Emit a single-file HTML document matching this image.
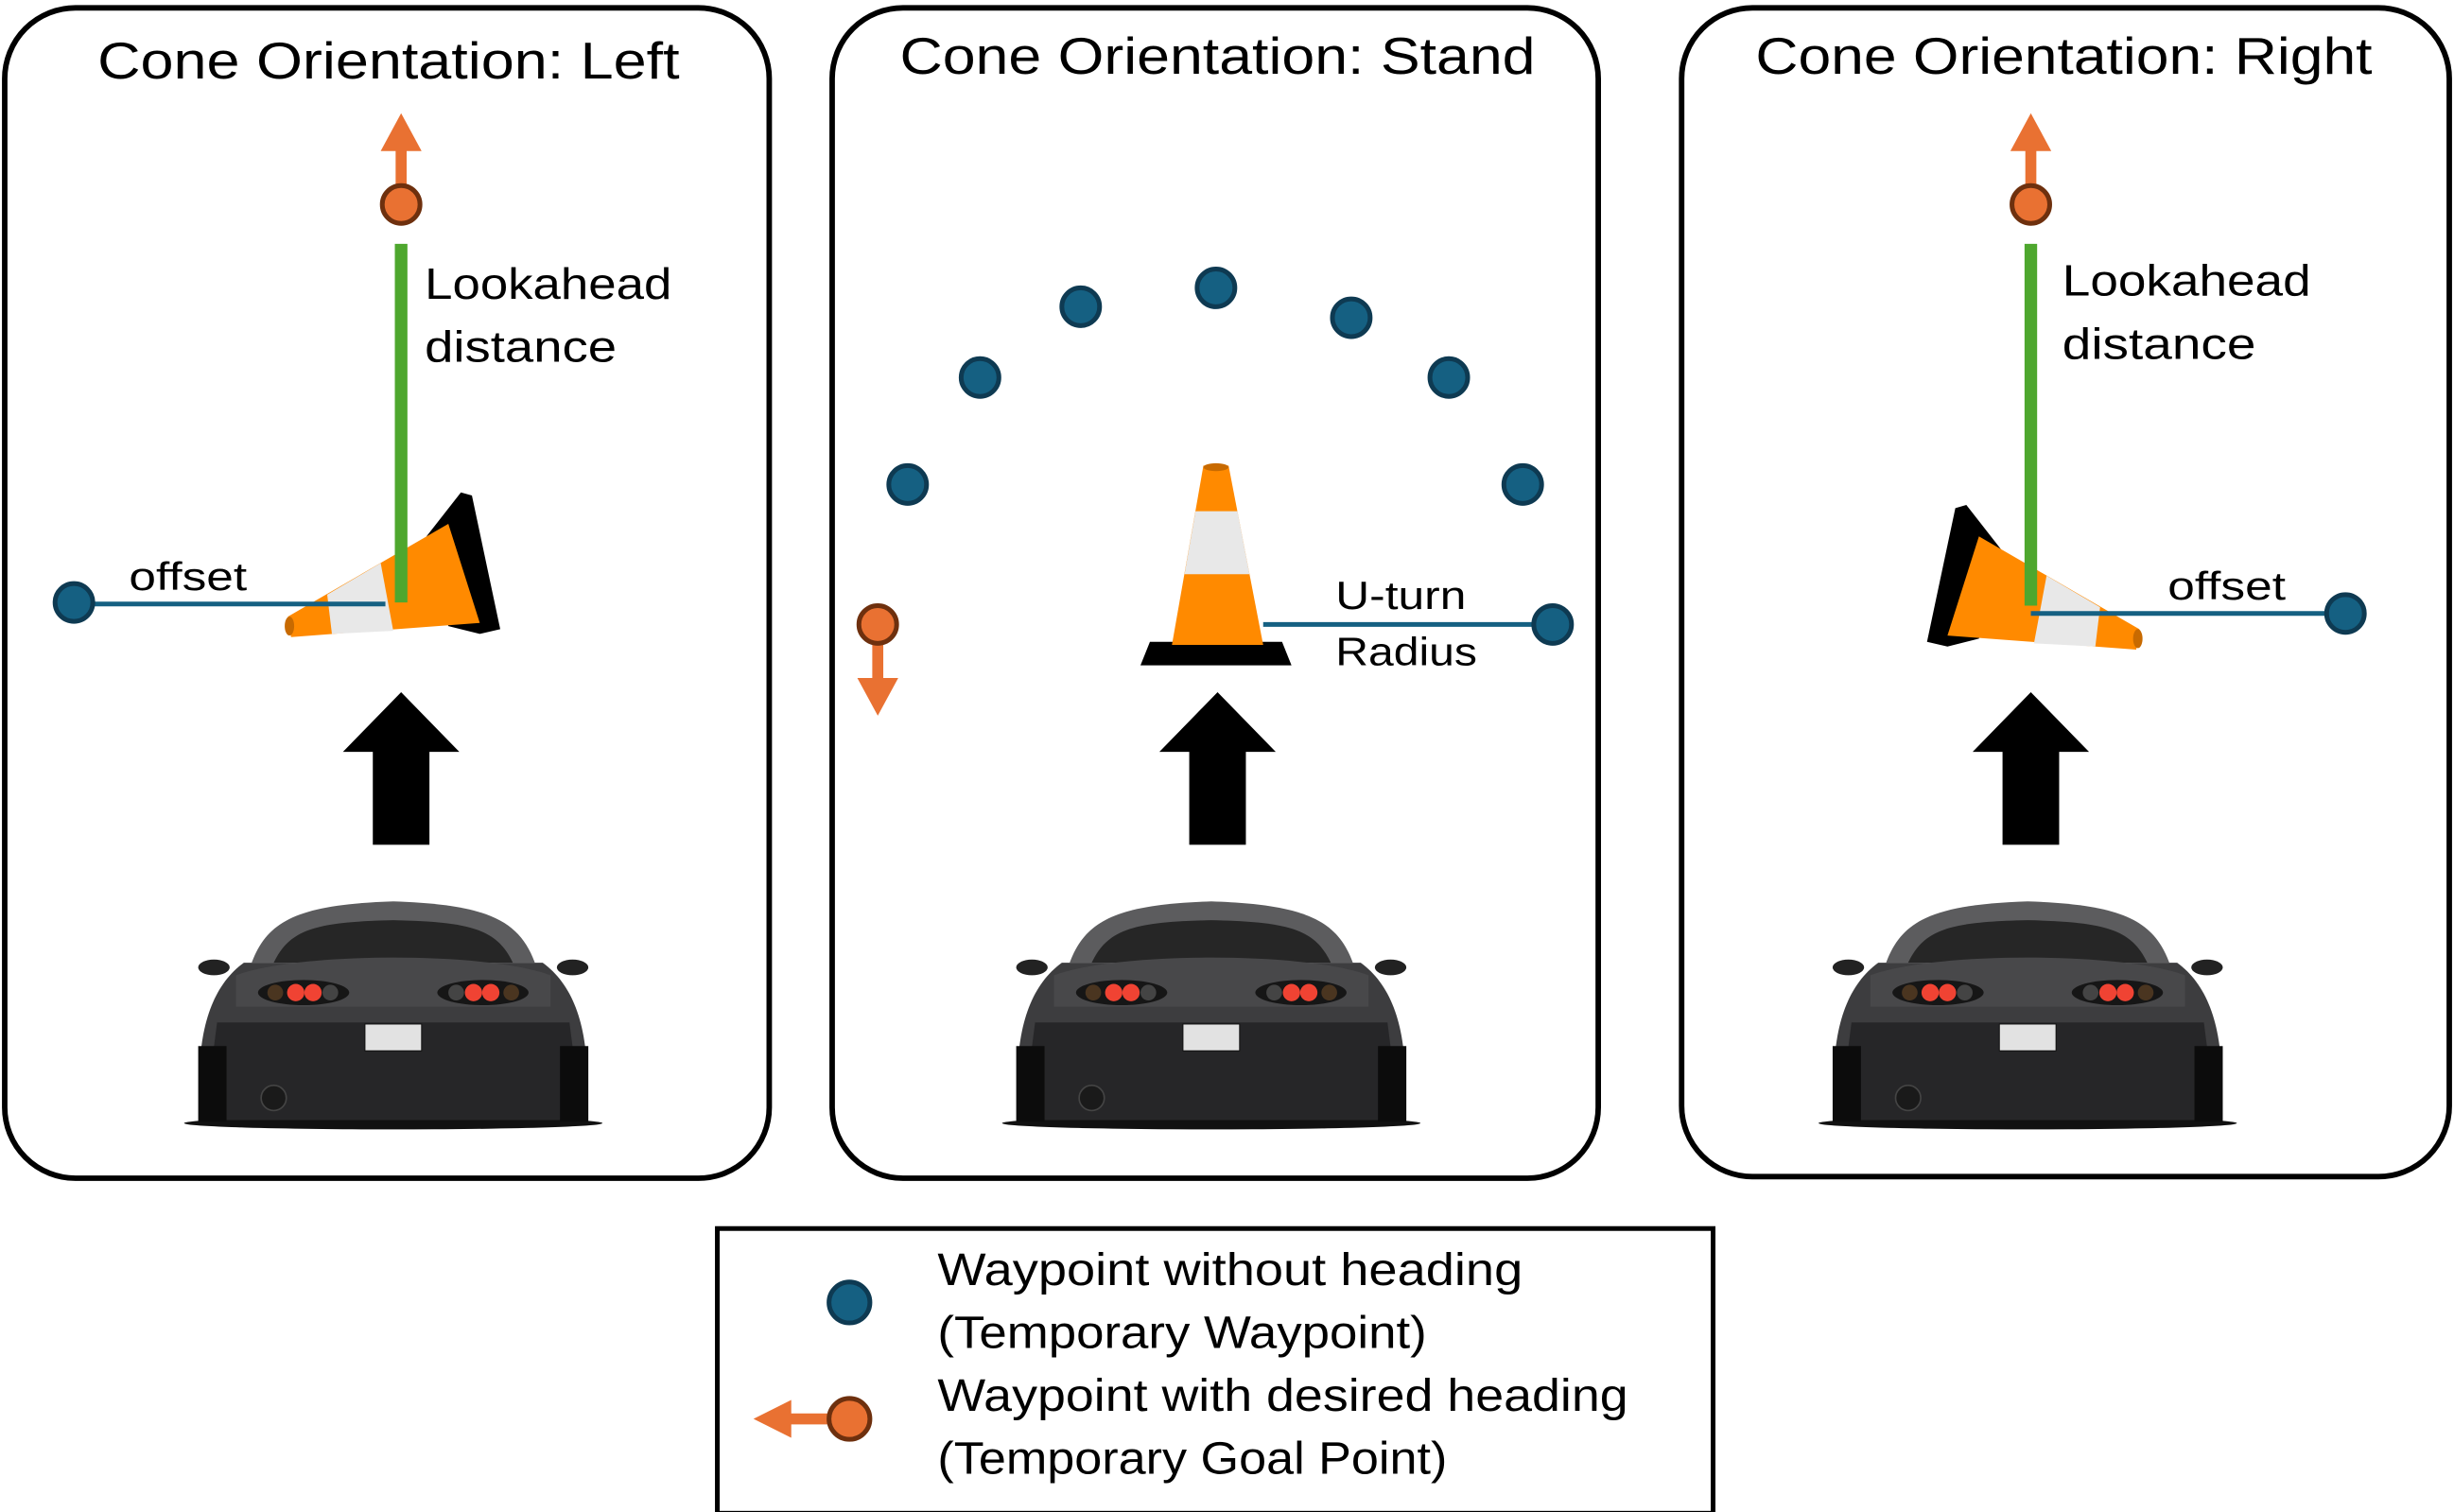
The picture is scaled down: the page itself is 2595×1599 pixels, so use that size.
<!DOCTYPE html>
<html><head><meta charset="utf-8"><style>
html,body{margin:0;padding:0;background:#fff;}
svg{display:block;}
text{font-family:"Liberation Sans","DejaVu Sans",sans-serif;fill:#000;}
</style></head><body>
<svg width="2595" height="1599" viewBox="0 0 1560 961.2" preserveAspectRatio="none" xmlns="http://www.w3.org/2000/svg">
<defs>
<g id="car">
  <ellipse cx="0" cy="714" rx="133" ry="4" fill="#111"/>
  <path d="M-90 612 C-80 585,-60 575,0 573 C60 575,80 585,90 612 Z" fill="#5c5c5e"/>
  <path d="M-76 612 C-66 591,-50 586,0 585 C50 586,66 591,76 612 Z" fill="#262626"/>
  <path d="M-122 712 C-127 660,-117 628,-95 612 L95 612 C117 628,127 660,122 712 Z" fill="#3d3d3f"/>
  <path d="M-112 650 L112 650 L120 712 L-120 712 Z" fill="#262628"/>
  <path d="M-100 620 C-60 605,60 605,100 620 L100 640 L-100 640 Z" fill="#48484a"/>
  <rect x="-124" y="665" width="18" height="48" fill="#0c0c0c"/>
  <rect x="106" y="665" width="18" height="48" fill="#0c0c0c"/>
  <ellipse cx="-114" cy="615" rx="10" ry="5" fill="#222"/>
  <ellipse cx="114" cy="615" rx="10" ry="5" fill="#222"/>
  <ellipse cx="-57" cy="631" rx="29" ry="8" fill="#161616"/>
  <ellipse cx="57" cy="631" rx="29" ry="8" fill="#161616"/>
  <circle cx="-75" cy="631" r="5" fill="#4a3520"/>
  <circle cx="-62" cy="631" r="5.5" fill="#f04333"/>
  <circle cx="-51" cy="631" r="5.5" fill="#f04333"/>
  <circle cx="-40" cy="631" r="5" fill="#444"/>
  <circle cx="40" cy="631" r="5" fill="#444"/>
  <circle cx="51" cy="631" r="5.5" fill="#f04333"/>
  <circle cx="62" cy="631" r="5.5" fill="#f04333"/>
  <circle cx="75" cy="631" r="5" fill="#4a3520"/>
  <rect x="-18" y="651" width="36" height="17" fill="#e2e2e2" stroke="#111" stroke-width="0.6"/>
  <circle cx="-76" cy="698" r="8" fill="#1a1a1a" stroke="#444" stroke-width="1"/>
</g>
<g id="bigarrow">
  <polygon points="-37,478 0,440 37,478 18,478 18,537 -18,537 -18,478" fill="#000"/>
</g>
<g id="lycone">
  <polygon points="268,345 293,313 300,315 318,400 305,403 285,398" fill="#000"/>
  <polygon points="183,392 285,333 305,396 185,405" fill="#ff8a00"/>
  <polygon points="208,378 242,358 250,401 211,403" fill="#e8e8e8"/>
  <ellipse cx="184" cy="398" rx="3" ry="6" fill="#c86a00"/>
</g>
</defs>

<rect x="3" y="5" width="486" height="744" rx="45" fill="none" stroke="#000" stroke-width="3.5"/>
<rect x="529" y="5" width="487" height="744" rx="45" fill="none" stroke="#000" stroke-width="3.5"/>
<rect x="1069" y="5" width="488" height="743" rx="45" fill="none" stroke="#000" stroke-width="3.5"/>

<text x="62" y="50" font-size="33" textLength="370" lengthAdjust="spacingAndGlyphs">Cone Orientation: Left</text>
<text x="572" y="47" font-size="33" textLength="404" lengthAdjust="spacingAndGlyphs">Cone Orientation: Stand</text>
<text x="1116" y="47" font-size="33" textLength="392" lengthAdjust="spacingAndGlyphs">Cone Orientation: Right</text>

<!-- LEFT -->
<line x1="255" y1="118" x2="255" y2="92" stroke="#e97132" stroke-width="7"/>
<polygon points="242,96 255,72 268,96" fill="#e97132"/>
<circle cx="255" cy="130" r="12" fill="#e97132" stroke="#6e300e" stroke-width="3"/>
<use href="#lycone"/>
<line x1="47" y1="384" x2="245" y2="384" stroke="#156082" stroke-width="3"/>
<circle cx="47" cy="383" r="12" fill="#156082" stroke="#0e3a52" stroke-width="3"/>
<line x1="255" y1="155" x2="255" y2="383" stroke="#4ea72e" stroke-width="8"/>
<text x="270" y="190" font-size="28" textLength="157" lengthAdjust="spacingAndGlyphs">Lookahead</text>
<text x="270" y="230" font-size="28" textLength="122" lengthAdjust="spacingAndGlyphs">distance</text>
<text x="82" y="375" font-size="25" textLength="75" lengthAdjust="spacingAndGlyphs">offset</text>
<use href="#bigarrow" transform="translate(255,0)"/>
<use href="#car" transform="translate(250,0)"/>

<!-- MIDDLE -->
<g fill="#156082" stroke="#0e3a52" stroke-width="3">
<circle cx="577" cy="308" r="12"/><circle cx="623" cy="240" r="12"/><circle cx="687" cy="195" r="12"/>
<circle cx="773" cy="183" r="12"/><circle cx="859" cy="202" r="12"/><circle cx="921" cy="240" r="12"/>
<circle cx="968" cy="308" r="12"/>
</g>
<line x1="558" y1="409" x2="558" y2="435" stroke="#e97132" stroke-width="7"/>
<polygon points="545,431 558,455 571,431" fill="#e97132"/>
<circle cx="558" cy="397" r="12" fill="#e97132" stroke="#6e300e" stroke-width="3"/>
<path d="M725 423 L731 408 L815 408 L821 423 Z" fill="#000"/>
<polygon points="765,296 781,296 803,410 745,410" fill="#ff8a00"/>
<polygon points="760,325 786.6,325 794.3,365 753,365" fill="#e8e8e8"/>
<ellipse cx="773" cy="297" rx="8" ry="2.5" fill="#c86a00"/>
<line x1="803" y1="397" x2="987" y2="397" stroke="#156082" stroke-width="3"/>
<circle cx="987" cy="397" r="12" fill="#156082" stroke="#0e3a52" stroke-width="3"/>
<text x="849" y="387" font-size="25" textLength="83" lengthAdjust="spacingAndGlyphs">U-turn</text>
<text x="849" y="423" font-size="25" textLength="90" lengthAdjust="spacingAndGlyphs">Radius</text>
<use href="#bigarrow" transform="translate(774,0)"/>
<use href="#car" transform="translate(770,0)"/>

<!-- RIGHT -->
<line x1="1291" y1="118" x2="1291" y2="92" stroke="#e97132" stroke-width="7"/>
<polygon points="1278,96 1291,72 1304,96" fill="#e97132"/>
<circle cx="1291" cy="130" r="12" fill="#e97132" stroke="#6e300e" stroke-width="3"/>
<use href="#lycone" transform="translate(1543,8) scale(-1,1)"/>
<line x1="1291" y1="390" x2="1491" y2="390" stroke="#156082" stroke-width="3"/>
<circle cx="1491" cy="390" r="12" fill="#156082" stroke="#0e3a52" stroke-width="3"/>
<line x1="1291" y1="155" x2="1291" y2="385" stroke="#4ea72e" stroke-width="8"/>
<text x="1311" y="188" font-size="28" textLength="158" lengthAdjust="spacingAndGlyphs">Lookahead</text>
<text x="1311" y="228" font-size="28" textLength="123" lengthAdjust="spacingAndGlyphs">distance</text>
<text x="1378" y="381" font-size="25" textLength="75" lengthAdjust="spacingAndGlyphs">offset</text>
<use href="#bigarrow" transform="translate(1291,0)"/>
<use href="#car" transform="translate(1289,0)"/>

<!-- LEGEND -->
<rect x="456" y="781" width="633" height="181" fill="none" stroke="#000" stroke-width="3"/>
<circle cx="540" cy="828" r="13" fill="#156082" stroke="#0e3a52" stroke-width="3"/>
<text x="596" y="817" font-size="29" textLength="372" lengthAdjust="spacingAndGlyphs">Waypoint without heading</text>
<text x="596" y="857" font-size="29" textLength="311" lengthAdjust="spacingAndGlyphs">(Temporary Waypoint)</text>
<line x1="528" y1="902" x2="500" y2="902" stroke="#e97132" stroke-width="7"/>
<polygon points="479,902 503,890 503,914" fill="#e97132"/>
<circle cx="540" cy="902" r="13" fill="#e97132" stroke="#6e300e" stroke-width="3"/>
<text x="596" y="897" font-size="29" textLength="439" lengthAdjust="spacingAndGlyphs">Waypoint with desired heading</text>
<text x="596" y="937" font-size="29" textLength="324" lengthAdjust="spacingAndGlyphs">(Temporary Goal Point)</text>
</svg>
</body></html>
